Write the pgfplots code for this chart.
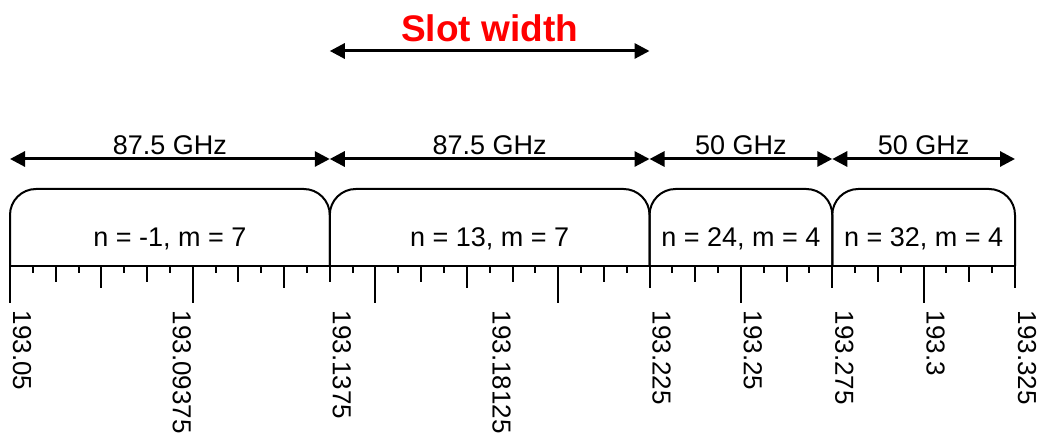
\documentclass[border=0pt]{standalone}
\usepackage{pgfplots}
\pgfplotsset{compat=1.18}
\usepackage{fontspec}
\setmainfont{Liberation Sans}
\usetikzlibrary{arrows.meta}
\begin{document}
\begin{tikzpicture}[every node/.style={font=\fontsize{27bp}{31bp}\selectfont, inner sep=0pt}]
\begin{axis}[
  scale only axis, width=1040bp, height=436bp,
  xmin=-2.7363, xmax=281.841, ymin=-170, ymax=266,
  axis line style={draw=none}, xtick=\empty, ytick=\empty,
  clip=false, unbounded coords=jump,
]
% frequency axis line
\addplot[black, line width=2.5bp, line cap=butt] coordinates {(0,0) (275,0)};
% ticks: 50 GHz
\addplot[black, line width=2bp] coordinates {(0,0)(0,-37) (nan,nan) (50,0)(50,-37) (nan,nan) (100,0)(100,-37) (nan,nan) (150,0)(150,-37) (nan,nan) (200,0)(200,-37) (nan,nan) (250,0)(250,-37)};
% ticks: 25 GHz
\addplot[black, line width=2bp] coordinates {(25,0)(25,-22) (nan,nan) (75,0)(75,-22) (nan,nan) (125,0)(125,-22) (nan,nan) (175,0)(175,-22) (nan,nan) (225,0)(225,-22) (nan,nan) (275,0)(275,-22)};
% ticks: 12.5 GHz
\addplot[black, line width=2bp] coordinates {(12.5,0)(12.5,-16) (nan,nan) (37.5,0)(37.5,-16) (nan,nan) (62.5,0)(62.5,-16) (nan,nan) (87.5,0)(87.5,-16) (nan,nan) (112.5,0)(112.5,-16) (nan,nan) (137.5,0)(137.5,-16) (nan,nan) (162.5,0)(162.5,-16) (nan,nan) (187.5,0)(187.5,-16) (nan,nan) (212.5,0)(212.5,-16) (nan,nan) (237.5,0)(237.5,-16) (nan,nan) (262.5,0)(262.5,-16)};
% ticks: 6.25 GHz
\addplot[black, line width=2bp] coordinates {(6.25,0)(6.25,-7) (nan,nan) (18.75,0)(18.75,-7) (nan,nan) (31.25,0)(31.25,-7) (nan,nan) (43.75,0)(43.75,-7) (nan,nan) (56.25,0)(56.25,-7) (nan,nan) (68.75,0)(68.75,-7) (nan,nan) (81.25,0)(81.25,-7) (nan,nan) (93.75,0)(93.75,-7) (nan,nan) (106.25,0)(106.25,-7) (nan,nan) (118.75,0)(118.75,-7) (nan,nan) (131.25,0)(131.25,-7) (nan,nan) (143.75,0)(143.75,-7) (nan,nan) (156.25,0)(156.25,-7) (nan,nan) (168.75,0)(168.75,-7) (nan,nan) (181.25,0)(181.25,-7) (nan,nan) (193.75,0)(193.75,-7) (nan,nan) (206.25,0)(206.25,-7) (nan,nan) (218.75,0)(218.75,-7) (nan,nan) (231.25,0)(231.25,-7) (nan,nan) (243.75,0)(243.75,-7) (nan,nan) (256.25,0)(256.25,-7) (nan,nan) (268.75,0)(268.75,-7)};
% slots
\addplot[black, line width=2bp, rounded corners=26bp] coordinates {(0,0) (0,77) (87.5,77) (87.5,0)};
\addplot[black, line width=2bp, rounded corners=26bp] coordinates {(87.5,0) (87.5,77) (175,77) (175,0)};
\addplot[black, line width=2bp, rounded corners=26bp] coordinates {(175,0) (175,77) (225,77) (225,0)};
\addplot[black, line width=2bp, rounded corners=26bp] coordinates {(225,0) (225,77) (275,77) (275,0)};
% width arrows
\addplot[black, line width=3bp, {Triangle[length=15bp,width=15bp]}-{Triangle[length=15bp,width=15bp]}] coordinates {(0,107) (87.5,107)};
\addplot[black, line width=3bp, {Triangle[length=15bp,width=15bp]}-{Triangle[length=15bp,width=15bp]}] coordinates {(87.5,107) (175,107)};
\addplot[black, line width=3bp, {Triangle[length=15bp,width=15bp]}-{Triangle[length=15bp,width=15bp]}] coordinates {(175,107) (225,107)};
\addplot[black, line width=3bp, {Triangle[length=15bp,width=15bp]}-{Triangle[length=15bp,width=15bp]}] coordinates {(225,107) (275,107)};
% slot width arrow
\addplot[black, line width=3bp, {Triangle[length=15bp,width=15bp]}-{Triangle[length=15bp,width=15bp]}] coordinates {(87.5,215) (175,215)};
% texts
\node[anchor=base, text=red, font=\bfseries\fontsize{37bp}{40bp}\selectfont] at (axis cs:131.25,224) {Slot width};
\node[anchor=base] at (axis cs:43.75,111) {87.5 GHz};
\node[anchor=base] at (axis cs:131.25,111) {87.5 GHz};
\node[anchor=base] at (axis cs:200,111) {50 GHz};
\node[anchor=base] at (axis cs:250,111) {50 GHz};
\node[anchor=base] at (axis cs:43.75,19) {n = -1, m = 7};
\node[anchor=base] at (axis cs:131.25,19) {n = 13, m = 7};
\node[anchor=base] at (axis cs:200,19) {n = 24, m = 4};
\node[anchor=base] at (axis cs:250,19) {n = 32, m = 4};
% frequency labels (THz)
\tikzset{flab/.style={rotate=-90, anchor=base west, font=\fontsize{26bp}{30bp}\selectfont}}
\node[flab] at ([xshift=3bp]axis cs:0,-44.5) {193.05};
\node[flab] at ([xshift=3bp]axis cs:43.75,-44.5) {193.09375};
\node[flab] at ([xshift=3bp]axis cs:87.5,-44.5) {193.1375};
\node[flab] at ([xshift=3bp]axis cs:131.25,-44.5) {193.18125};
\node[flab] at ([xshift=3bp]axis cs:175,-44.5) {193.225};
\node[flab] at ([xshift=3bp]axis cs:200,-44.5) {193.25};
\node[flab] at ([xshift=3bp]axis cs:225,-44.5) {193.275};
\node[flab] at ([xshift=3bp]axis cs:250,-44.5) {193.3};
\node[flab] at ([xshift=3bp]axis cs:275,-44.5) {193.325};
\end{axis}
\end{tikzpicture}
\end{document}
